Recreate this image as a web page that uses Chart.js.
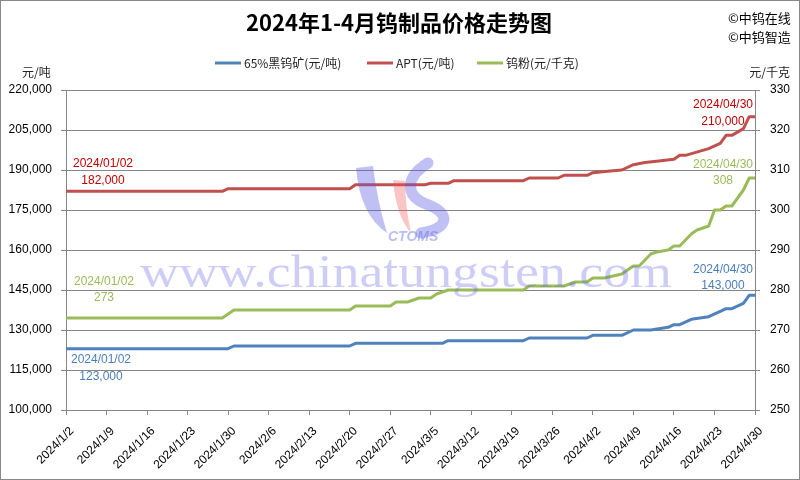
<!DOCTYPE html>
<html><head><meta charset="utf-8">
<script src="https://cdn.jsdelivr.net/npm/chart.js@4.4.1/dist/chart.umd.min.js"></script>
<style>html,body{margin:0;padding:0;background:#fff}#wrap{width:800px;height:480px}</style>
</head><body><div id="wrap"><canvas id="c" width="800" height="480"></canvas></div>
<script>
// ---- data ----
const chartTitle = '2024年1-4月钨制品价格走势图';
const seriesNames = ['65%黑钨矿(元/吨)', 'APT(元/吨)', '钨粉(元/千克)'];

const oreDates = ['1/2','1/30','1/31','2/20','2/21','3/7','3/8','3/21','3/22','4/1','4/2','4/7','4/9','4/12','4/15','4/16','4/17','4/19','4/22','4/24','4/25','4/26','4/28','4/29','4/30'];
const oreValues = [123000,123000,124000,124000,125000,125000,126000,126000,127000,127000,128000,128000,130000,130000,131000,132000,132000,134000,135000,137000,138000,138000,140000,143000,143000];

const aptDates = ['1/2','1/29','1/30','2/20','2/21','3/4','3/5','3/8','3/9','3/21','3/22','3/27','3/28','4/1','4/2','4/5','4/7','4/9','4/11','4/13','4/16','4/17','4/18','4/22','4/24','4/25','4/26','4/28','4/29','4/30'];
const aptValues = [182000,182000,183000,183000,184500,184500,185000,185000,186000,186000,187000,187000,188000,188000,189000,189600,190000,192000,192800,193300,194000,195500,195500,198000,200000,203000,203000,205500,210000,210000];

const powderDates = ['1/2','1/29','1/31','2/20','2/21','2/27','2/28','3/1','3/3','3/5','3/6','3/8','3/21','3/22','3/28','3/30','4/1','4/2','4/4','4/7','4/9','4/10','4/12','4/13','4/15','4/16','4/17','4/19','4/20','4/22','4/23','4/24','4/25','4/26','4/28','4/29','4/30'];
const powderValues = [273,273,275,275,276,276,277,277,278,278,279,280,280,281,281,282,282,283,283,284,286,286,289,289.5,290,291,291,294,295,296,300,300,301,301,305,308,308];

const leftTicks = {min:100000, max:220000, step:15000};
const rightTicks = {min:250, max:330, step:10};
const startLabel = '2024/01/02', endLabel = '2024/04/30';

// ---- helpers ----
const FONT = "'Liberation Sans','Noto Sans CJK SC',sans-serif";
const CJK = "'Noto Sans CJK SC','Liberation Sans',sans-serif";
function dayIndex(s){const [m,d]=s.split('/').map(Number);return Math.round((Date.UTC(2024,m-1,d)-Date.UTC(2024,0,2))/86400000);}
function dayLabel(i){const dt=new Date(Date.UTC(2024,0,2+i));return dt.getUTCFullYear()+'/'+(dt.getUTCMonth()+1)+'/'+dt.getUTCDate();}
function pts(dates,vals){return dates.map((d,i)=>({x:dayIndex(d),y:vals[i]}));}
const lastDay = dayIndex('4/30');

const colors = ['#4F81BD','#C0504D','#9BBB59'];
const textColors = ['#4A7EBB','#C00000','#9BBB59'];

const decor = {
  id:'decor',
  beforeDraw(chart){
    const ctx=chart.ctx;ctx.save();
    ctx.fillStyle='#fff';ctx.fillRect(0,0,800,480);
    ctx.restore();
  },
  afterDatasetsDraw(chart){
    const ctx=chart.ctx;ctx.save();
    // watermark logo
    ctx.fillStyle='rgba(90,90,230,0.38)';
    ctx.beginPath();ctx.moveTo(356,168);ctx.quadraticCurveTo(360,215,387,233);ctx.quadraticCurveTo(377,200,373,166);ctx.closePath();ctx.fill();
    ctx.fillStyle='rgba(240,90,90,0.35)';
    ctx.beginPath();ctx.moveTo(393,180);ctx.quadraticCurveTo(396,216,411,233);ctx.quadraticCurveTo(405,205,405,181);ctx.closePath();ctx.fill();
    ctx.strokeStyle='rgba(90,90,230,0.38)';ctx.lineWidth=11;ctx.lineCap='round';
    ctx.beginPath();ctx.moveTo(428,163);ctx.bezierCurveTo(404,178,406,196,426,204);ctx.bezierCurveTo(452,213,449,229,421,233);ctx.stroke();
    ctx.fillStyle='rgba(100,110,230,0.45)';ctx.font='italic bold 14px '+FONT;ctx.textBaseline='alphabetic';ctx.textAlign='left';
    ctx.fillText('CTOMS',388,241);
    // watermark text
    ctx.font='46px "Liberation Serif", serif';
    const t='www.chinatungsten.com';const w=ctx.measureText(t).width;
    ctx.translate(140,287);ctx.scale(532/w,1);
    ctx.fillStyle='rgba(100,100,230,0.32)';ctx.fillText(t,0,0);
    ctx.restore();

    // data labels at first and last points
    ctx.save();
    ctx.font='12px '+FONT;ctx.textAlign='center';ctx.textBaseline='middle';
    const offs=[
      {s:[35,11,28], e:[-32,-26,-10]},
      {s:[37,-28,-11], e:[-32,-12,5]},
      {s:[38,-36,-20], e:[-32,-13,3]}
    ];
    const valsArr=[oreValues,aptValues,powderValues];
    chart.data.datasets.forEach((ds,i)=>{
      const meta=chart.getDatasetMeta(i);const p0=meta.data[0], p1=meta.data[meta.data.length-1];
      const v=valsArr[i];
      ctx.fillStyle=textColors[i];
      const o=offs[i];
      ctx.fillText(startLabel,p0.x+o.s[0],p0.y+o.s[1]);
      ctx.fillText(v[0].toLocaleString('en-US'),p0.x+o.s[0],p0.y+o.s[2]);
      ctx.fillText(endLabel,p1.x+o.e[0],p1.y+o.e[1]);
      ctx.fillText(v[v.length-1].toLocaleString('en-US'),p1.x+o.e[0],p1.y+o.e[2]);
    });
    ctx.restore();
  },
  afterDraw(chart){
    const ctx=chart.ctx;ctx.save();
    ctx.strokeStyle='#898989';ctx.lineWidth=1;ctx.strokeRect(0.5,0.5,799,479);
    // title
    ctx.fillStyle='#000';ctx.textAlign='center';ctx.textBaseline='middle';
    ctx.font='bold 22px '+CJK;ctx.fillText(chartTitle,399,23);
    // corner
    ctx.font='13px '+CJK;ctx.textAlign='left';
    ctx.fillText('©中钨在线',728,18);ctx.fillText('©中钨智造',728,37);
    // legend
    const lx=[215,367,477];
    ctx.font='12px '+CJK;ctx.lineWidth=3;
    seriesNames.forEach((n,i)=>{
      ctx.strokeStyle=colors[i];ctx.beginPath();ctx.moveTo(lx[i],63);ctx.lineTo(lx[i]+26,63);ctx.stroke();
      ctx.fillStyle='#222';ctx.fillText(n,lx[i]+29,63);
    });
    // axis unit titles
    ctx.fillText('元/吨',22,72);
    ctx.textAlign='right';ctx.fillText('元/千克',790,72);
    ctx.restore();
  }
};

new Chart(document.getElementById('c'),{
  type:'line',
  data:{datasets:[
    {label:seriesNames[0],data:pts(oreDates,oreValues),borderColor:colors[0],yAxisID:'y'},
    {label:seriesNames[1],data:pts(aptDates,aptValues),borderColor:colors[1],yAxisID:'y'},
    {label:seriesNames[2],data:pts(powderDates,powderValues),borderColor:colors[2],yAxisID:'y2'}
  ]},
  options:{
    responsive:false,animation:false,devicePixelRatio:1,
    layout:{padding:{top:90,left:0,right:0,bottom:0}},
    elements:{line:{borderWidth:3,tension:0,borderJoinStyle:'round',borderCapStyle:'round',fill:false},point:{radius:0,hoverRadius:0}},
    plugins:{legend:{display:false},title:{display:false},tooltip:{enabled:false}},
    scales:{
      x:{type:'linear',min:0,max:lastDay,
        ticks:{stepSize:7,autoSkip:false,maxRotation:45,minRotation:45,color:'#000',font:{size:12,family:FONT},padding:9,labelOffset:6,callback:v=>dayLabel(v)},
        grid:{drawOnChartArea:false,color:'#868686',tickLength:5},border:{color:'#868686'},
        afterFit:s=>{s.height=70;}},
      y:{position:'left',min:leftTicks.min,max:leftTicks.max,
        ticks:{stepSize:leftTicks.step,color:'#000',font:{size:12,family:FONT},padding:9,callback:v=>v.toLocaleString('en-US')},
        grid:{color:'#868686',tickLength:5},border:{color:'#868686'},
        afterFit:s=>{s.width=66;}},
      y2:{position:'right',min:rightTicks.min,max:rightTicks.max,
        ticks:{stepSize:rightTicks.step,color:'#000',font:{size:12,family:FONT},padding:10},
        grid:{drawOnChartArea:false,color:'#868686',tickLength:5},border:{color:'#868686'},
        afterFit:s=>{s.width=45;}}
    }
  },
  plugins:[decor]
});
</script></body></html>
